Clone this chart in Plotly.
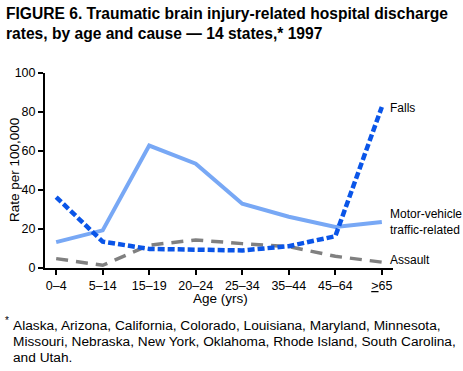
import plotly.graph_objects as go

age_groups = ["0–4", "5–14", "15–19", "20–24", "25–34", "35–44", "45–64", "<u>&gt;</u>65"]
motor_vehicle = [13.3, 19.3, 62.8, 53.5, 33.0, 26.3, 21.0, 23.6]
falls = [36.4, 13.5, 9.8, 9.2, 9.0, 11.2, 16.3, 82.6]
assault = [4.8, 1.4, 11.7, 14.4, 12.5, 11.0, 6.0, 3.0]

x = list(range(len(age_groups)))
FONT = "Liberation Sans, Arial, sans-serif"

L, T, W, H = 45, 73, 348, 195  # plot area in pixels


def px(xp):
    return (xp - L) / W


def py(yp):
    return 1 - (yp - T) / H


fig = go.Figure()
fig.add_trace(go.Scatter(x=x, y=motor_vehicle, mode="lines",
                         line=dict(color="#78A8F5", width=4), name="Motor-vehicle traffic-related"))
fig.add_trace(go.Scatter(x=x, y=assault, mode="lines",
                         line=dict(color="#808080", width=3.5, dash="12px,8px"), name="Assault"))
fig.add_trace(go.Scatter(x=x, y=falls, mode="lines",
                         line=dict(color="#0A55E8", width=4.5, dash="7px,3px"), name="Falls"))

fig.update_layout(
    width=463, height=371,
    margin=dict(l=L, r=463 - L - W, t=T, b=371 - T - H),
    paper_bgcolor="white", plot_bgcolor="white",
    showlegend=False,
    font=dict(family=FONT, color="black", size=12),
    xaxis=dict(range=[-0.24, 7.24], tickmode="array", tickvals=x, ticktext=age_groups,
               automargin=False,
               showline=True, linecolor="black", linewidth=2, ticks="outside",
               ticklen=5, tickwidth=1.5, tickcolor="black", showgrid=False, zeroline=False,
               tickfont=dict(size=12.5, family=FONT)),
    yaxis=dict(range=[0, 100], tickvals=[0, 20, 40, 60, 80, 100],
               automargin=False,
               showline=True, linecolor="black", linewidth=2, ticks="outside",
               ticklen=5, tickwidth=1.5, tickcolor="black", showgrid=False, zeroline=False,
               tickfont=dict(size=12.5, family=FONT)),
)

ann = [
    dict(x=7, y=falls[-1], text="Falls", xshift=6, yshift=-1),
    dict(x=7, y=motor_vehicle[-1], text="Motor-vehicle<br>traffic-related", xshift=6, yshift=0),
    dict(x=7, y=assault[-1], text="Assault", xshift=6, yshift=2),
]
for a in ann:
    fig.add_annotation(xref="x", yref="y", xanchor="left", yanchor="middle",
                       showarrow=False, align="left",
                       font=dict(size=12, family=FONT, color="black"), **a)

# axis titles
fig.add_annotation(xref="paper", yref="paper", x=px(220), y=py(298.5),
                   xanchor="center", yanchor="middle", text="Age (yrs)", showarrow=False,
                   font=dict(size=13.5, family=FONT, color="black"))
fig.add_annotation(xref="paper", yref="paper", x=px(14), y=py(170),
                   xanchor="center", yanchor="middle", text="Rate per 100,000", showarrow=False,
                   textangle=-90, font=dict(size=13.5, family=FONT, color="black"))

# title
fig.add_annotation(xref="paper", yref="paper", x=px(4), y=py(3), xanchor="left", yanchor="top",
                   text="<b>FIGURE 6. Traumatic brain injury-related hospital discharge<br>rates, by age and cause — 14 states,* 1997</b>",
                   showarrow=False, align="left", font=dict(size=15.6, family=FONT, color="black"))

foot_lines = [
    "Alaska, Arizona, California, Colorado, Louisiana, Maryland, Minnesota,",
    "Missouri, Nebraska, New York, Oklahoma, Rhode Island, South Carolina,",
    "and Utah.",
]
fig.add_annotation(xref="paper", yref="paper", x=px(3), y=py(320),
                   xanchor="left", yanchor="middle", text="*", showarrow=False,
                   font=dict(size=10, family=FONT, color="black"))
for i, line in enumerate(foot_lines):
    fig.add_annotation(xref="paper", yref="paper", x=px(11), y=py(325.5 + 16 * i),
                       xanchor="left", yanchor="middle", text=line, showarrow=False,
                       font=dict(size=13.7, family=FONT, color="black"))

fig.write_html("out.html", config={"displayModeBar": False},
               post_script="document.body.style.margin='0';document.body.style.overflow='hidden';")
